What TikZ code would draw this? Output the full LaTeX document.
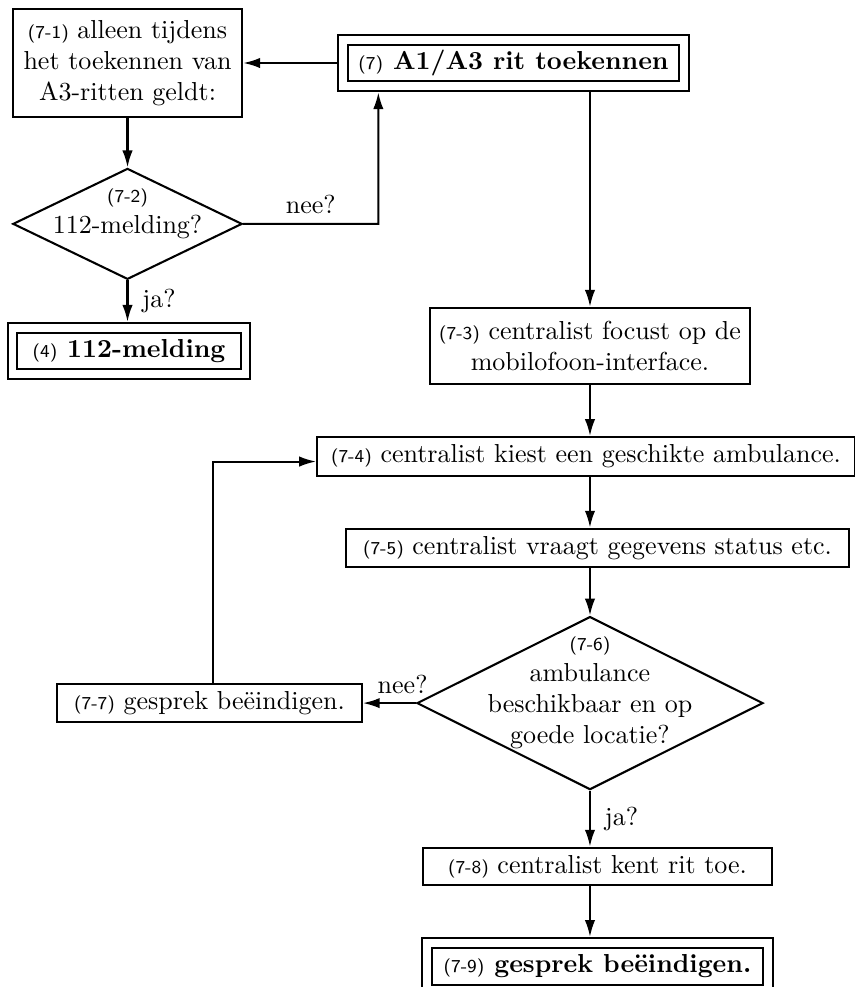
\documentclass[tikz,border=0pt]{standalone}
\usepackage{fontspec}
\usepackage{tikz}
\usetikzlibrary{arrows.meta, positioning, calc, shapes.geometric}

\newcommand{\stap}[1]{{\sffamily\mdseries\scriptsize(#1)}}

\begin{document}
\begin{tikzpicture}[
    stap_box/.style={rectangle, draw, thick, align=center, inner ysep=2.9pt},
    stap_eind/.style={rectangle, draw, thick, double, double distance=3pt, outer sep=2.3pt, align=center, font=\bfseries, minimum height=0.63cm},
    stap_keuze/.style={diamond, draw, thick, align=center, shape aspect=2, inner sep=-12pt, text depth=10pt},
    edge_pijl/.style={->, >={Latex[length=6.5pt, width=4pt]}, thick},
    node distance=0.69cm
  ]
    \useasboundingbox (-6.943,0.852) rectangle (4.604,-12.493);

    \node[stap_eind, minimum width=4.62cm] (s7) {\stap{7} A1/A3 rit toekennen};

    \node[stap_box, minimum width=3.1cm, minimum height=1.47cm, left=1.264cm of s7] (s71) {\stap{7-1} alleen tijdens\\ het toekennen van\\ A3-ritten geldt:};
    \node[stap_keuze, minimum width=3.1cm, minimum height=1.5cm, below=0.662cm of s71] (s72) {\stap{7-2}\\ 112-melding?};
    \node[stap_eind, minimum width=3.15cm, below=0.56cm of s72, xshift=0.02cm] (s4) {\stap{4} 112-melding};

    \node[stap_box, minimum width=4.33cm, minimum height=1.03cm, below=2.90cm of s7, xshift=1.034cm] (s73) {\stap{7-3} centralist focust op de\\ mobilofoon-interface.};
    \node[stap_box, minimum width=7.27cm, below=of s73, xshift=-0.054cm] (s74) {\stap{7-4} centralist kiest een geschikte ambulance.};
    \node[stap_box, minimum width=6.8cm, below=of s74, xshift=0.155cm] (s75) {\stap{7-5} centralist vraagt gegevens status etc.};
    \node[stap_keuze, minimum width=4.68cm, minimum height=2.34cm, below=0.64cm of s75, xshift=-0.101cm] (s76) {\stap{7-6}\\ ambulance\\ beschikbaar en op\\ goede locatie?};
    \node[stap_box, minimum width=4.12cm, left=0.717cm of s76] (s77) {\stap{7-7} gesprek beëindigen.};
    \node[stap_box, minimum width=4.72cm, below=0.757cm of s76, xshift=0.101cm] (s78) {\stap{7-8} centralist kent rit toe.};
    \node[stap_eind, minimum width=4.61cm, below=0.683cm of s78] (s79) {\stap{7-9} gesprek beëindigen.};

    \coordinate (knik) at ($(s72.east)!0.5!(s72.east -| s7.south)$);

    \draw[edge_pijl] (s7.west) -- (s71.east);
    \draw[edge_pijl] (s71.south) -- (s72.north);
    \draw[edge_pijl] (s72.east) -- node[above]{nee?} (knik) -- (knik |- s7.south);
    \draw[edge_pijl] (s72.south) -- node[right=2pt]{ja?} (s72.south |- s4.north);

    \draw[edge_pijl] (s7.south -| s73.north) -- (s73.north);
    \draw[edge_pijl] (s73.south) -- (s73.south |- s74.north);
    \draw[edge_pijl] (s74.south -| s76.north) -- (s75.north -| s76.north);
    \draw[edge_pijl] (s75.south -| s76.north) -- (s76.north);
    \draw[edge_pijl] (s76.west) -- node[above, near start]{nee?} (s77.east);
    \draw[edge_pijl] ([xshift=1.5pt]s77.north) |- ([yshift=-2pt]s74.west);
    \draw[edge_pijl] (s76.south) -- node[right=2pt]{ja?} (s76.south |- s78.north);
    \draw[edge_pijl] (s78.south -| s76.south) -- (s79.north -| s76.south);
  \end{tikzpicture}
\end{document}
